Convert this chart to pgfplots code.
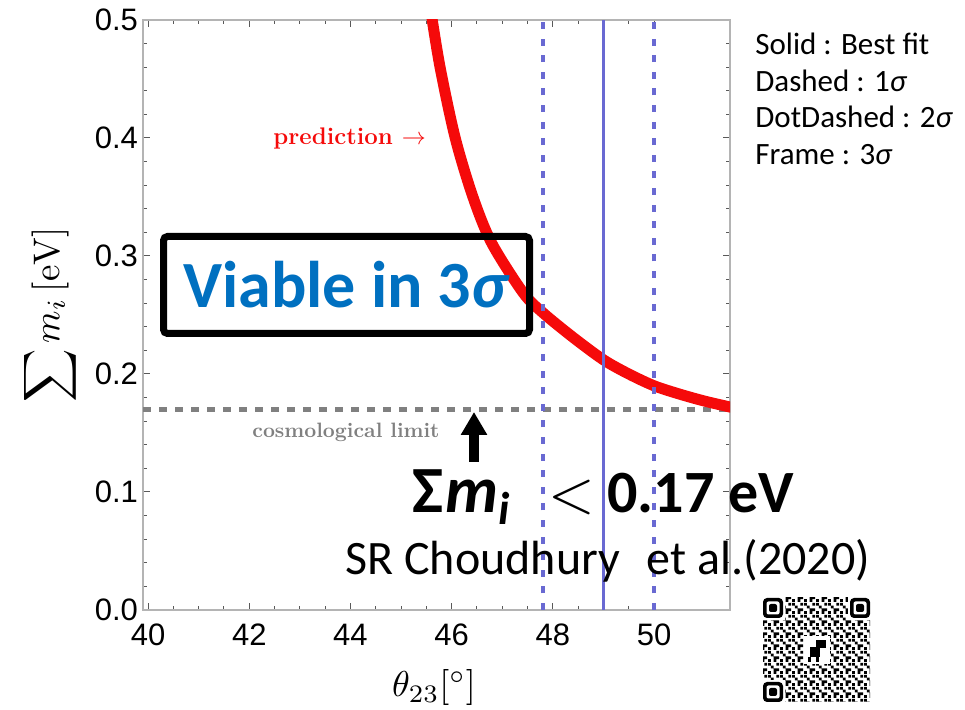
\documentclass[border=0pt]{standalone}
\usepackage{fontspec}
\usepackage{graphicx}
\usepackage{pgfplots}
\pgfplotsset{compat=1.18}
\usetikzlibrary{arrows.meta,patterns}
\newfontfamily\carl{Carlito}
\newfontfamily\tickfont{Liberation Sans}
\definecolor{predred}{RGB}{245,10,10}
\definecolor{lineblue}{RGB}{105,105,210}
\definecolor{limgray}{RGB}{128,128,128}
\definecolor{viablue}{RGB}{0,112,192}
\definecolor{framegray}{RGB}{180,180,180}
\pgfdeclarepatternformonly{qrtex}{\pgfpointorigin}{\pgfqpoint{6pt}{6pt}}{\pgfqpoint{6pt}{6pt}}{%
  \pgfpathrectangle{\pgfqpoint{0pt}{0pt}}{\pgfqpoint{1.5pt}{1.5pt}}%
  \pgfpathrectangle{\pgfqpoint{3pt}{0pt}}{\pgfqpoint{1.5pt}{3pt}}%
  \pgfpathrectangle{\pgfqpoint{1.5pt}{3pt}}{\pgfqpoint{1.5pt}{1.5pt}}%
  \pgfpathrectangle{\pgfqpoint{4.5pt}{4.5pt}}{\pgfqpoint{1.5pt}{1.5pt}}%
  \pgfpathrectangle{\pgfqpoint{0pt}{4.5pt}}{\pgfqpoint{1.5pt}{1.5pt}}%
  \pgfpathrectangle{\pgfqpoint{4.5pt}{1.5pt}}{\pgfqpoint{1.5pt}{1.5pt}}%
  \pgfusepath{fill}}
\begin{document}
\begin{tikzpicture}
\useasboundingbox (0,0) rectangle (482.5pt,355pt);
\begin{axis}[
  at={(71.5pt,50pt)}, anchor=south west,
  scale only axis, width=293.5pt, height=295pt,
  xmin=39.9, xmax=51.5, ymin=0, ymax=0.5,
  xtick={40,42,44,46,48,50}, minor x tick num=3,
  ytick={0,0.1,0.2,0.3,0.4,0.5}, minor y tick num=4,
  tick pos=both, xticklabel pos=lower, yticklabel pos=left,
  tick align=inside,
  major tick length=3.5pt, minor tick length=2pt,
  axis line style={draw=framegray, line width=1pt},
  tick style={draw=black!65, line width=0.5pt},
  ticklabel style={font=\tickfont\fontsize{15.5}{16}\selectfont},
  /pgf/number format/assume math mode=true,
  yticklabel style={/pgf/number format/fixed, /pgf/number format/fixed zerofill, /pgf/number format/precision=1, xshift=1pt},
  xticklabel style={yshift=-3.5pt},
]
\addplot[limgray, line width=2.5pt, dash pattern=on 4pt off 4pt] coordinates {(39.9,0.17) (51.5,0.17)};
\addplot[predred, line width=5.5pt, smooth] coordinates {
(45.58,0.51) (45.77,0.46) (46.07,0.40) (46.42,0.35) (46.79,0.311) (47.41,0.269)
(47.8,0.252) (48.4,0.231) (49.0,0.212) (49.5,0.200) (50.0,0.190) (50.5,0.183) (51.0,0.177) (51.5,0.172) (51.6,0.171)};
\addplot[lineblue, line width=1.5pt] coordinates {(49,0) (49,0.5)};
\addplot[lineblue, line width=1.8pt, dash pattern=on 3.5pt off 4.8pt] coordinates {(47.8,0) (47.8,0.5)};
\addplot[lineblue, line width=1.8pt, dash pattern=on 3.5pt off 4.8pt] coordinates {(50,0) (50,0.5)};
\end{axis}
\begin{scope}[shift={(0pt,355pt)}, x=0.5pt, y=-0.5pt]
% inner labels
\node[anchor=base west, inner sep=0, text=predred, font=\bfseries\fontsize{12}{14}\selectfont] at (273,145) {prediction $\rightarrow$};
\node[anchor=base west, inner sep=0, text=limgray, font=\bfseries\fontsize{10.4}{12}\selectfont] at (252,438) {cosmological limit};
% axis labels
\node[rotate=90, inner sep=0] at (50,315) {\scalebox{1.85}{$\displaystyle\sum m_i\,[\mathrm{eV}]$}};
\node[inner sep=0] at (434,688) {\scalebox{1.8}{$\theta_{23}[^\circ]$}};
% viable box
\draw[line width=3.5pt, rounded corners=2pt] (163.5,236.5) rectangle (529.5,333.5);
\node[anchor=base, inner sep=0, text=viablue, font=\carl\bfseries\fontsize{33}{36}\selectfont] at (346.5,308) {Viable in 3\textit{σ}};
% legend text
\node[anchor=base west, inner sep=0, font=\carl\fontsize{15.5}{18}\selectfont] at (755,55) {Solid : Best fit};
\node[anchor=base west, inner sep=0, font=\carl\fontsize{15.5}{18}\selectfont] at (755,91.5) {Dashed : 1\textit{σ}};
\node[anchor=base west, inner sep=0, font=\carl\fontsize{15.5}{18}\selectfont] at (755,128) {DotDashed : 2\textit{σ}};
\node[anchor=base west, inner sep=0, font=\carl\fontsize{15.5}{18}\selectfont] at (755,165) {Frame : 3\textit{σ}};
% arrow and bound
\draw[line width=5pt, -{Triangle[width=12.5pt, length=11.5pt]}] (474,462) -- (474,412);
\node[anchor=base west, inner sep=0, font=\carl\bfseries\fontsize{33}{36}\selectfont] at (412,513) {Σ\kern1pt\textit{m}\raisebox{-6pt}{\fontsize{23}{24}\selectfont\textit{i}}};
\node[anchor=base, inner sep=0] at (572,513) {\scalebox{3}{$<$}};
\node[anchor=base west, inner sep=0, font=\carl\bfseries\fontsize{30}{36}\selectfont] at (607,513) {0.17 eV};
\node[anchor=base west, inner sep=0, font=\carl\fontsize{24}{28}\selectfont] at (345,575) {SR Choudhury\hspace{8pt} et al.(2020)};
% QR-like badge
\fill[pattern=qrtex, pattern color=black] (763,598) rectangle (870,702);
\foreach \qx/\qy in {763/598, 850/598, 763/682} {
  \fill[white] (\qx-2,\qy-2) rectangle ++(24,24);
  \fill[black, rounded corners=2pt] (\qx,\qy) rectangle ++(20,20);
  \fill[white, rounded corners=1pt] (\qx+3.5,\qy+3.5) rectangle ++(13,13);
  \fill[black, rounded corners=1pt] (\qx+6,\qy+6) rectangle ++(8,8);
}
\fill[white] (804,636) rectangle (830,664);
\fill[black] (816,640) rectangle (826,648);
\fill[black] (810,647) rectangle (820,657);
\fill[black] (808,657) rectangle (811,662);
\fill[black] (816,657) rectangle (819,662);
\end{scope}
\end{tikzpicture}
\end{document}
